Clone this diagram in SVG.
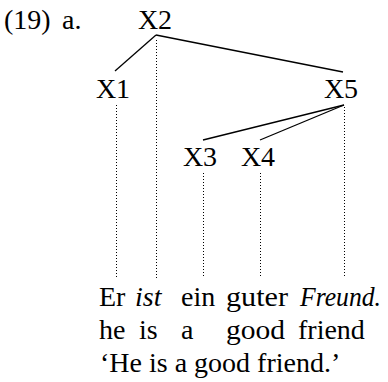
<svg xmlns="http://www.w3.org/2000/svg" width="388" height="382" viewBox="0 0 388 382">
<style>
text{font-family:"Liberation Serif","Times New Roman",serif;font-size:28px;fill:#000}
.it{font-style:italic}
.edge{stroke:#000;stroke-width:1.3;fill:none}
.dot{stroke:#000;stroke-width:1;stroke-dasharray:1 2;fill:none}
</style>
<rect width="388" height="382" fill="#fff"/>
<text x="4" y="29">(19)</text>
<text x="62" y="29">a.</text>
<g id="connectors">
<line class="edge" x1="156" y1="35" x2="115" y2="71"/>
<line class="edge" x1="156" y1="35" x2="343" y2="72"/>
<line class="edge" x1="344" y1="105" x2="203" y2="140"/>
<line class="edge" x1="344" y1="105" x2="260" y2="140"/>
<line class="dot" x1="156.5" y1="40" x2="156.5" y2="278"/>
<line class="dot" x1="116.5" y1="105" x2="116.5" y2="278"/>
<line class="dot" x1="344.5" y1="107" x2="344.5" y2="278"/>
<line class="dot" x1="203.5" y1="173" x2="203.5" y2="278"/>
<line class="dot" x1="260.5" y1="173" x2="260.5" y2="278"/>
</g>
<g id="X2"><text x="155" y="29" text-anchor="middle">X2</text></g>
<g id="X1"><text x="113" y="98" text-anchor="middle">X1</text></g>
<g id="X5"><text x="341" y="98" text-anchor="middle">X5</text></g>
<g id="X3"><text x="200" y="166" text-anchor="middle">X3</text></g>
<g id="X4"><text x="258" y="166" text-anchor="middle">X4</text></g>
<g id="gloss">
<text x="99" y="306">Er</text>
<text x="135" y="306" class="it">ist</text>
<text x="181" y="306">ein</text>
<text x="226" y="306" textLength="62" lengthAdjust="spacingAndGlyphs">guter</text>
<text x="300" y="306" class="it" textLength="81" lengthAdjust="spacingAndGlyphs">Freund.</text>
<text x="99" y="339">he</text>
<text x="139" y="339">is</text>
<text x="181" y="339">a</text>
<text x="226" y="339" textLength="59" lengthAdjust="spacingAndGlyphs">good</text>
<text x="298" y="339">friend</text>
<text x="100" y="372">‘He is a good friend.’</text>
</g>
</svg>
